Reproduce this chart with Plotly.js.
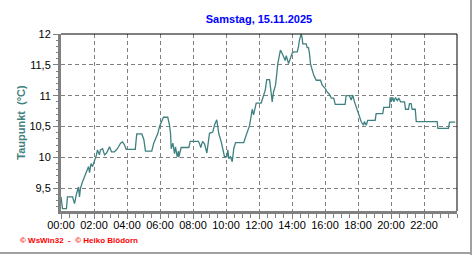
<!DOCTYPE html>
<html>
<head>
<meta charset="utf-8">
<script src="https://cdn.plot.ly/plotly-3.0.1.min.js"></script>
<style>
html,body{margin:0;padding:0;background:#fff;}
#chart{width:472px;height:255px;}
</style>
</head>
<body>
<div id="chart"></div>
<script>
const titleText = "Samstag, 15.11.2025";
const yTitle = "Taupunkt  (°C)";
const footer = "© WsWin32  -  © Heiko Blödorn";
const tickHours = [0,2,4,6,8,10,12,14,16,18,20,22];
const tickLabels = ["00:00","02:00","04:00","06:00","08:00","10:00","12:00","14:00","16:00","18:00","20:00","22:00"];
const yTickVals = [9.5,10,10.5,11,11.5,12];
const yTickLabels = ["9,5","10","10,5","11","11,5","12"];

const hours = [0.00,0.09,0.33,0.39,0.70,0.82,0.94,1.06,1.12,1.18,1.30,1.42,1.55,1.67,1.73,1.82,1.91,2.03,2.15,2.21,2.33,2.39,2.52,2.64,2.76,2.94,3.06,3.24,3.42,3.61,3.73,3.85,3.95,4.50,4.59,4.90,5.02,5.12,5.50,5.62,5.73,5.87,5.97,6.07,6.21,6.47,6.58,6.64,6.68,6.78,6.88,6.94,7.04,7.12,7.14,7.28,7.75,7.83,8.33,8.41,8.47,8.58,8.70,8.84,8.94,9.00,9.20,9.30,9.44,9.50,9.56,9.71,9.81,9.91,10.05,10.11,10.17,10.27,10.38,10.47,10.58,11.08,11.16,11.26,11.36,11.42,11.48,11.53,11.59,11.67,11.77,11.83,12.13,12.23,12.38,12.47,12.64,12.74,12.80,12.88,13.00,13.08,13.14,13.24,13.30,13.41,13.50,13.59,13.65,13.71,13.79,13.91,14.01,14.11,14.32,14.39,14.45,14.56,14.62,14.65,14.86,14.92,15.00,15.06,15.12,15.20,15.32,15.47,15.73,15.83,16.01,16.13,16.27,16.38,16.53,16.62,17.22,17.28,17.48,17.59,17.68,17.79,17.89,17.99,18.09,18.19,18.33,18.39,18.50,18.59,19.04,19.10,19.50,19.56,19.91,19.95,20.01,20.11,20.17,20.27,20.38,20.47,20.58,20.82,20.88,21.06,21.12,21.22,21.28,21.47,21.53,22.80,22.84,23.48,23.55,23.89];
const dewpoint = [9.36,9.17,9.17,9.36,9.36,9.25,9.41,9.52,9.36,9.50,9.60,9.68,9.76,9.85,9.75,9.90,9.85,9.93,10.04,10.12,10.04,10.12,10.14,10.04,10.07,10.17,10.09,10.09,10.14,10.23,10.25,10.20,10.13,10.13,10.38,10.38,10.29,10.10,10.10,10.23,10.29,10.39,10.50,10.56,10.65,10.65,10.52,10.38,10.14,10.23,10.06,10.17,10.01,10.10,10.00,10.16,10.16,10.26,10.26,10.21,10.16,10.26,10.22,10.07,10.28,10.39,10.41,10.52,10.61,10.50,10.39,10.25,10.14,10.01,10.01,10.12,9.98,10.01,9.93,10.14,10.24,10.24,10.31,10.39,10.45,10.51,10.60,10.71,10.78,10.69,10.85,10.88,10.88,10.98,11.09,11.26,11.26,11.04,10.90,11.06,11.17,11.36,11.52,11.66,11.74,11.68,11.63,11.57,11.65,11.59,11.52,11.61,11.69,11.71,11.71,11.79,11.90,12.00,11.93,11.84,11.84,11.78,11.78,11.68,11.52,11.44,11.33,11.25,11.25,11.17,11.12,11.06,11.02,10.96,10.96,10.86,10.86,11.00,11.00,10.93,11.01,10.90,10.82,10.71,10.63,10.58,10.52,10.58,10.52,10.60,10.60,10.71,10.71,10.81,10.81,10.97,10.90,10.97,10.90,10.97,10.92,10.96,10.90,10.90,10.78,10.78,10.87,10.87,10.78,10.78,10.58,10.58,10.47,10.47,10.57,10.57];

const font = "Liberation Sans, Arial, sans-serif";
const trace = {
  x: hours, y: dewpoint, type: "scatter", mode: "lines",
  line: {color: "#3f8080", width: 1.3}, hoverinfo: "skip"
};
const layout = {
  width: 472, height: 255,
  margin: {l: 61, r: 15, t: 34, b: 44, pad: 0},
  paper_bgcolor: "#ffffff", plot_bgcolor: "#ffffff",
  showlegend: false,
  font: {family: font, size: 11, color: "#000"},
  title: {text: "<b>" + titleText + "</b>", font: {family: font, size: 11, color: "#0000ff"},
          x: 0.5, xref: "paper", xanchor: "center", y: 1 - 19/255, yanchor: "middle"},
  xaxis: {
    range: [0, 24], tickvals: tickHours, ticktext: tickLabels,
    showgrid: true, gridcolor: "#808080", griddash: "4px,3px", gridwidth: 1,
    showline: true, linecolor: "#808080", linewidth: 3,
    ticks: "outside", ticklen: 5, tickcolor: "#808080", tickwidth: 1,
    ticklabelstandoff: -3,
    minor: {dtick: 0.5, tick0: 0, ticks: "outside", ticklen: 4, tickcolor: "#808080", showgrid: false},
    zeroline: false, fixedrange: true,
    tickfont: {family: font, size: 11, color: "#000"}
  },
  yaxis: {
    range: [9.13, 12], tickvals: yTickVals, ticktext: yTickLabels,
    showgrid: true, gridcolor: "#808080", griddash: "4px,3px", gridwidth: 1,
    showline: true, linecolor: "#808080", linewidth: 3,
    ticks: "outside", ticklen: 5, tickcolor: "#808080", tickwidth: 1,
    minor: {dtick: 0.1, tick0: 9, ticks: "outside", ticklen: 2, tickcolor: "#808080", showgrid: false},
    zeroline: false, fixedrange: true,
    tickfont: {family: font, size: 11, color: "#000"},
    title: {text: "<b>" + yTitle + "</b>", font: {family: font, size: 11, color: "#3f8080"}, standoff: 2}
  },
  shapes: [
    {type: "line", xref: "paper", yref: "paper", x0: 0, x1: 1, y0: 1, y1: 1, line: {color: "#000", width: 1}},
    {type: "line", xref: "paper", yref: "paper", x0: 1, x1: 1, y0: 0, y1: 1, line: {color: "#000", width: 1}},
    {type: "line", xref: "paper", yref: "paper", x0: (471-61)/396, x1: (471-61)/396, y0: (211-255)/177, y1: 211/177, line: {color: "#a0a0a0", width: 2}},
    {type: "line", xref: "paper", yref: "paper", x0: -61/396, x1: (472-61)/396, y0: (211-253)/177, y1: (211-253)/177, line: {color: "#a0a0a0", width: 2}}
  ],
  annotations: [
    {text: "<b>" + footer + "</b>", xref: "paper", yref: "paper", x: (18-61)/396, y: (211-240.5)/177,
     xanchor: "left", yanchor: "middle", showarrow: false, font: {family: font, size: 8, color: "#ff0000"}}
  ]
};
Plotly.newPlot("chart", [trace], layout, {staticPlot: true, displayModeBar: false});
</script>
</body>
</html>
